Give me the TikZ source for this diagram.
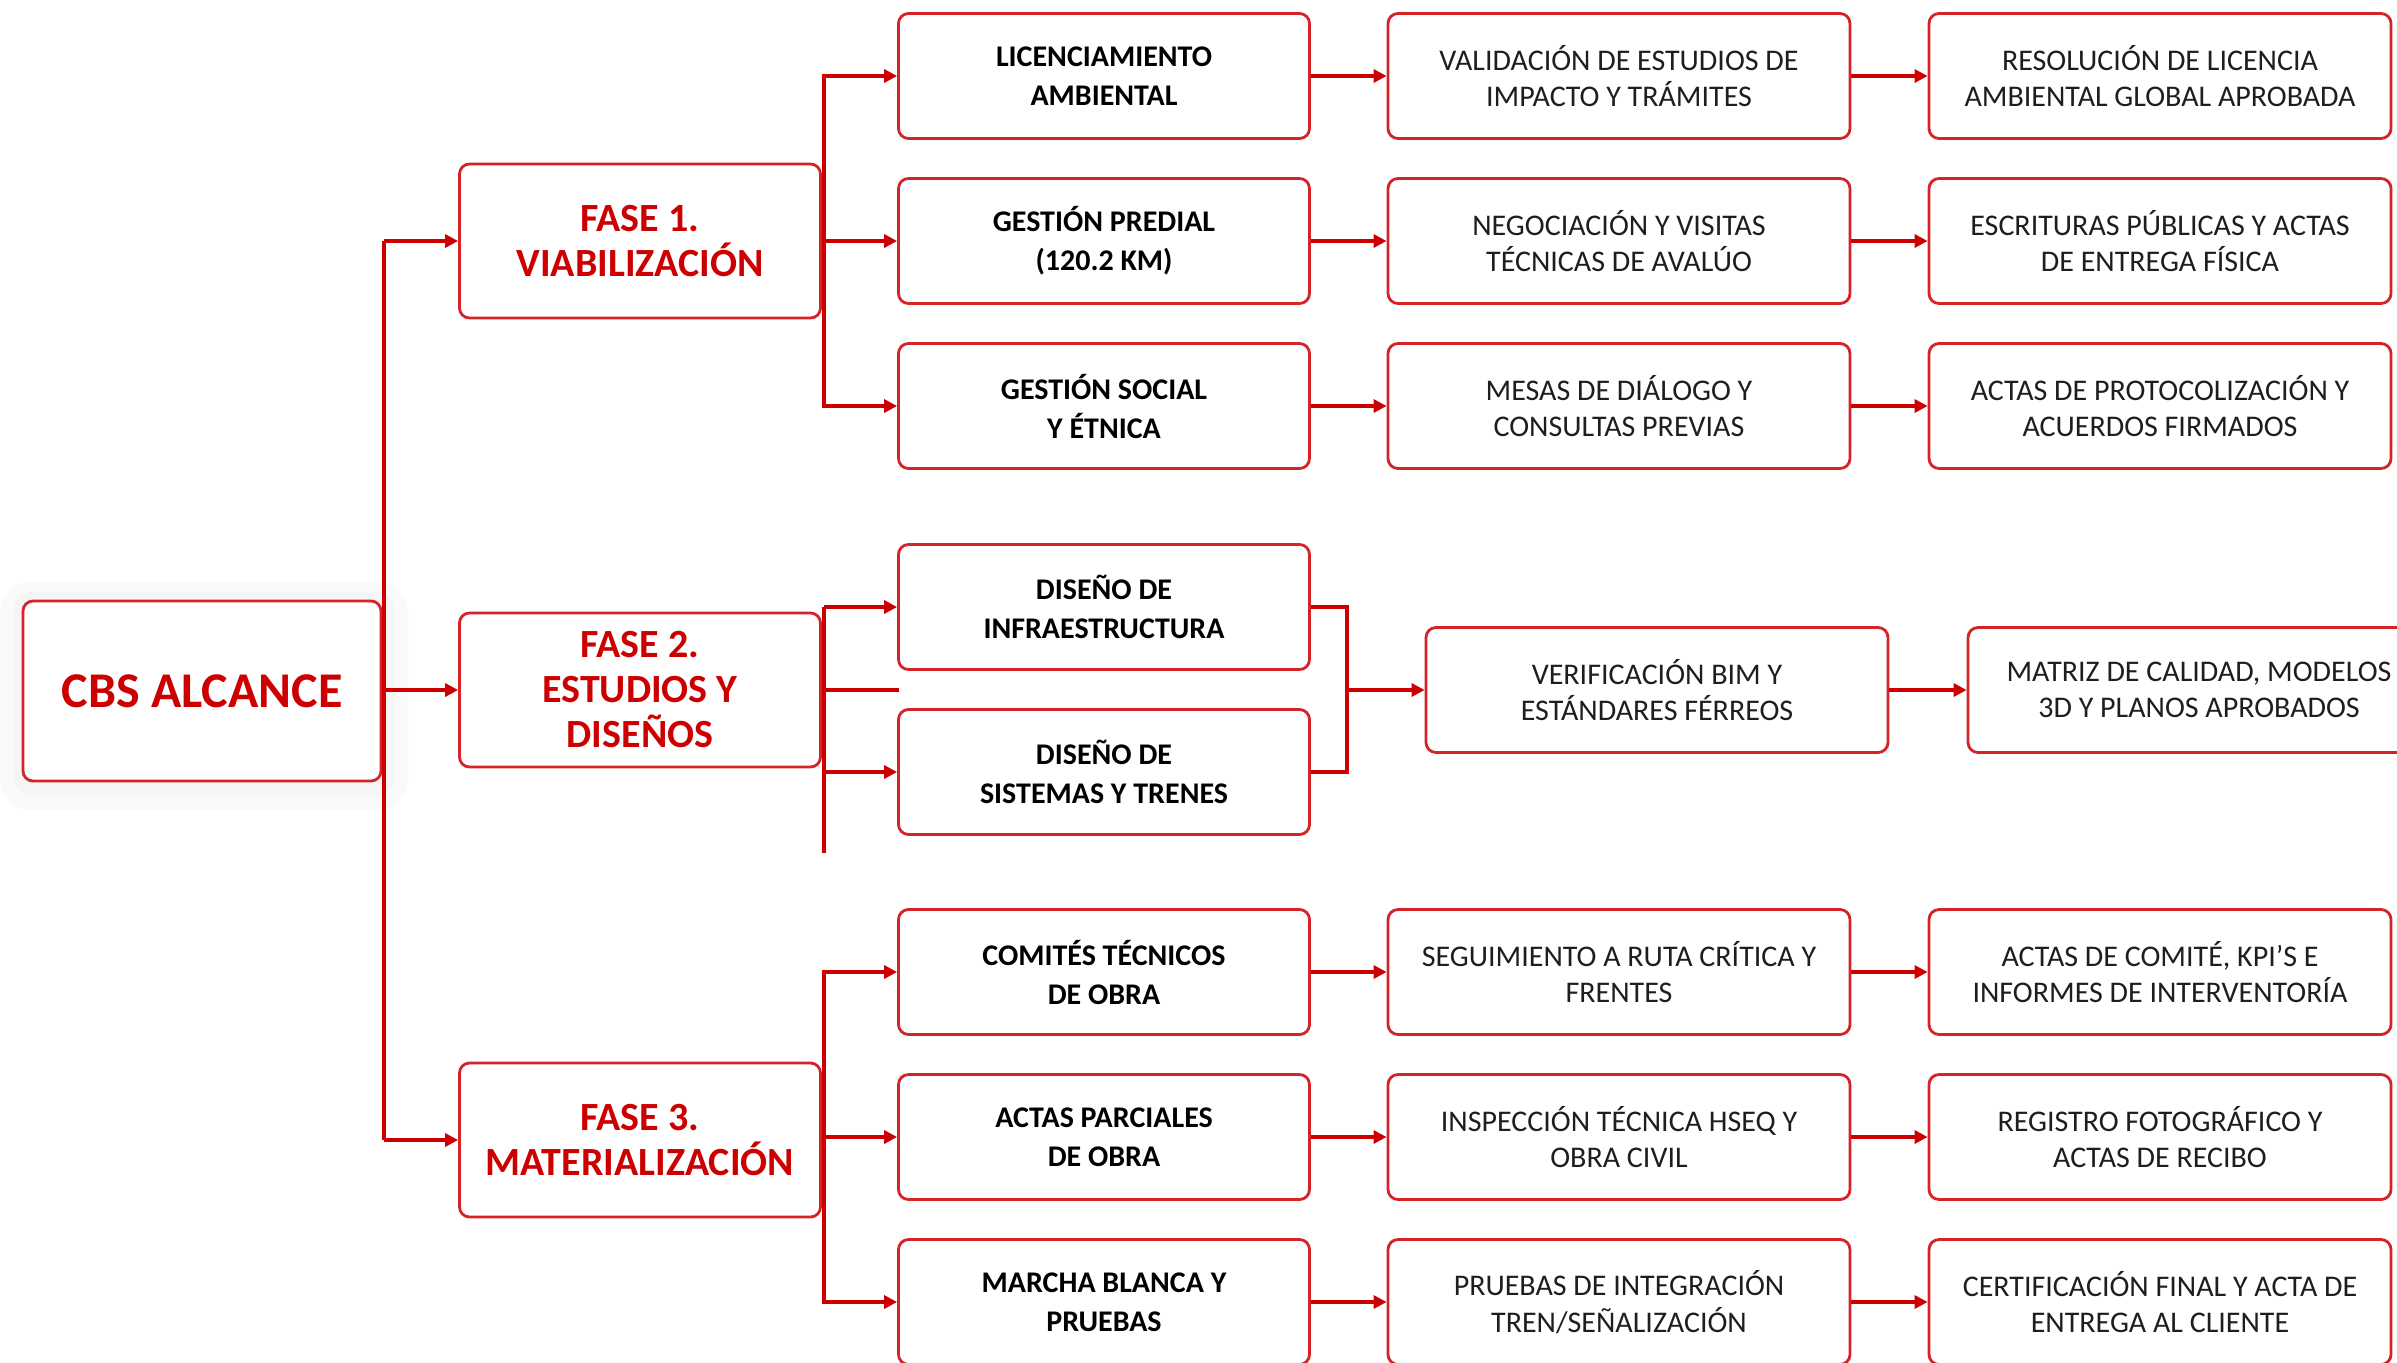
\documentclass[tikz,border=0pt]{standalone}
\usepackage{fontspec}
\setmainfont{Carlito}
\usetikzlibrary{arrows.meta,backgrounds}
\definecolor{linered}{RGB}{204,0,0}
\definecolor{boxred}{RGB}{212,36,40}
\definecolor{fasered}{RGB}{204,0,0}
\definecolor{inkgray}{RGB}{30,30,30}
\begin{document}
\begin{tikzpicture}[x=0.5pt,y=-0.5pt,
    box/.style={draw=boxred,line width=1.4pt,rounded corners=5pt,fill=white,align=center,inner sep=2pt},
    rootbox/.style={box,minimum width=179pt,minimum height=90pt,text=fasered,font=\bfseries\fontsize{25}{29}\selectfont},
    phasebox/.style={box,minimum width=180.5pt,minimum height=77pt,text=fasered,font=\bfseries\fontsize{20}{22.5}\selectfont},
    taskbox/.style={box,minimum width=205.5pt,minimum height=62.5pt,text=black,font=\bfseries\fontsize{15}{19.5}\selectfont},
    outbox/.style={box,minimum width=231pt,minimum height=62.5pt,text=inkgray,font=\fontsize{15}{18.3}\selectfont},
    wire/.style={draw=linered,line width=1.6pt},
    link/.style={wire,-{Triangle[length=6.5pt,width=6.5pt]}}]
      \useasboundingbox (0,0) rectangle (2397,1362);
      \def \Phases{
        f1/241/{FASE 1.\\VIABILIZACIÓN},
        f2/690/{FASE 2.\\ESTUDIOS Y\\DISEÑOS},
        f3/1140/{FASE 3.\\MATERIALIZACIÓN}}
      \def \Tasks{
        l1/76/{LICENCIAMIENTO\\AMBIENTAL},
        l2/241/{GESTIÓN PREDIAL\\(120.2 KM)},
        l3/406/{GESTIÓN SOCIAL\\Y ÉTNICA},
        d1/607/{DISEÑO DE\\INFRAESTRUCTURA},
        d2/772/{DISEÑO DE\\SISTEMAS Y TRENES},
        m1/972/{COMITÉS TÉCNICOS\\DE OBRA},
        m2/1137/{ACTAS PARCIALES\\DE OBRA},
        m3/1302/{MARCHA BLANCA Y\\PRUEBAS}}
      \def \Outputs{
        l1b/1619/76/{VALIDACIÓN DE ESTUDIOS DE\\IMPACTO Y TRÁMITES},
        l1c/2160/76/{RESOLUCIÓN DE LICENCIA\\AMBIENTAL GLOBAL APROBADA},
        l2b/1619/241/{NEGOCIACIÓN Y VISITAS\\TÉCNICAS DE AVALÚO},
        l2c/2160/241/{ESCRITURAS PÚBLICAS Y ACTAS\\DE ENTREGA FÍSICA},
        l3b/1619/406/{MESAS DE DIÁLOGO Y\\CONSULTAS PREVIAS},
        l3c/2160/406/{ACTAS DE PROTOCOLIZACIÓN Y\\ACUERDOS FIRMADOS},
        vf/1657/690/{VERIFICACIÓN BIM Y\\ESTÁNDARES FÉRREOS},
        mq/2199/690/{MATRIZ DE CALIDAD, MODELOS\\3D Y PLANOS APROBADOS},
        m1b/1619/972/{SEGUIMIENTO A RUTA CRÍTICA Y\\FRENTES},
        m1c/2160/972/{ACTAS DE COMITÉ, KPI'S E\\INFORMES DE INTERVENTORÍA},
        m2b/1619/1137/{INSPECCIÓN TÉCNICA HSEQ Y\\OBRA CIVIL},
        m2c/2160/1137/{REGISTRO FOTOGRÁFICO Y\\ACTAS DE RECIBO},
        m3b/1619/1302/{PRUEBAS DE INTEGRACIÓN\\TREN/SEÑALIZACIÓN},
        m3c/2160/1302/{CERTIFICACIÓN FINAL Y ACTA DE\\ENTREGA AL CLIENTE}}
      \def \Links{
        l1/l1b, l1b/l1c,
        l2/l2b, l2b/l2c,
        l3/l3b, l3b/l3c,
        vf/mq,
        m1/m1b, m1b/m1c,
        m2/m2b, m2b/m2c,
        m3/m3b, m3b/m3c}
      % root and its soft shadow
      \node[rootbox] (cbs) at (202,691) {CBS ALCANCE};
      \begin{scope}[on background layer]
        \fill[black!2,rounded corners=16pt] ([shift={(-11pt,9pt)}]cbs.north west) rectangle ([shift={(13pt,-14pt)}]cbs.south east);
        \fill[black!4,rounded corners=10pt] ([shift={(-4pt,4pt)}]cbs.north west) rectangle ([shift={(6pt,-7pt)}]cbs.south east);
      \end{scope}
      \foreach \id / \y / \txt in \Phases{
        \node[phasebox] (\id) at (640,\y) {\txt};
      }
      \foreach \id / \y / \txt in \Tasks{
        \node[taskbox] (\id) at (1104,\y) {\txt};
      }
      \foreach \id / \x / \y / \txt in \Outputs{
        \node[outbox] (\id) at (\x,\y) {\txt};
      }
      % trunk
      \coordinate (trunk) at (384,691);
      \path[wire,line width=2.2pt] (trunk |- f1) -- (trunk |- f3);
      \foreach \id in {f1,f2,f3}{
        \path[link] (trunk |- \id) -- (\id);
      }
      % phase 1 and 3 branches
      \coordinate (b1) at (824,241);
      \coordinate (b3) at (824,1140);
      \foreach \id in {l1,l2,l3}{
        \path[link] (f1.east) -- (b1) |- (\id);
      }
      \foreach \id in {m1,m2,m3}{
        \path[link] (f3.east) -- (b3) |- (\id);
      }
      % phase 2 branch and join
      \coordinate (b2) at (824,690);
      \coordinate (b2end) at (824,853);
      \coordinate (b2gap) at (899,690);
      \coordinate (dj) at (1347,690);
      \path[wire] (f2.east) -- (b2gap);
      \path[wire] (b2 |- d1) -- (b2end);
      \path[link] (b2 |- d1) -- (d1);
      \path[link] (b2 |- d2) -- (d2);
      \path[wire] (d1.east) -| (dj);
      \path[wire] (d2.east) -| (dj);
      \path[link] (dj) -- (vf);
      \foreach \x / \y in \Links{
        \path[link] (\x) -- (\y);
      }
\end{tikzpicture}
\end{document}
